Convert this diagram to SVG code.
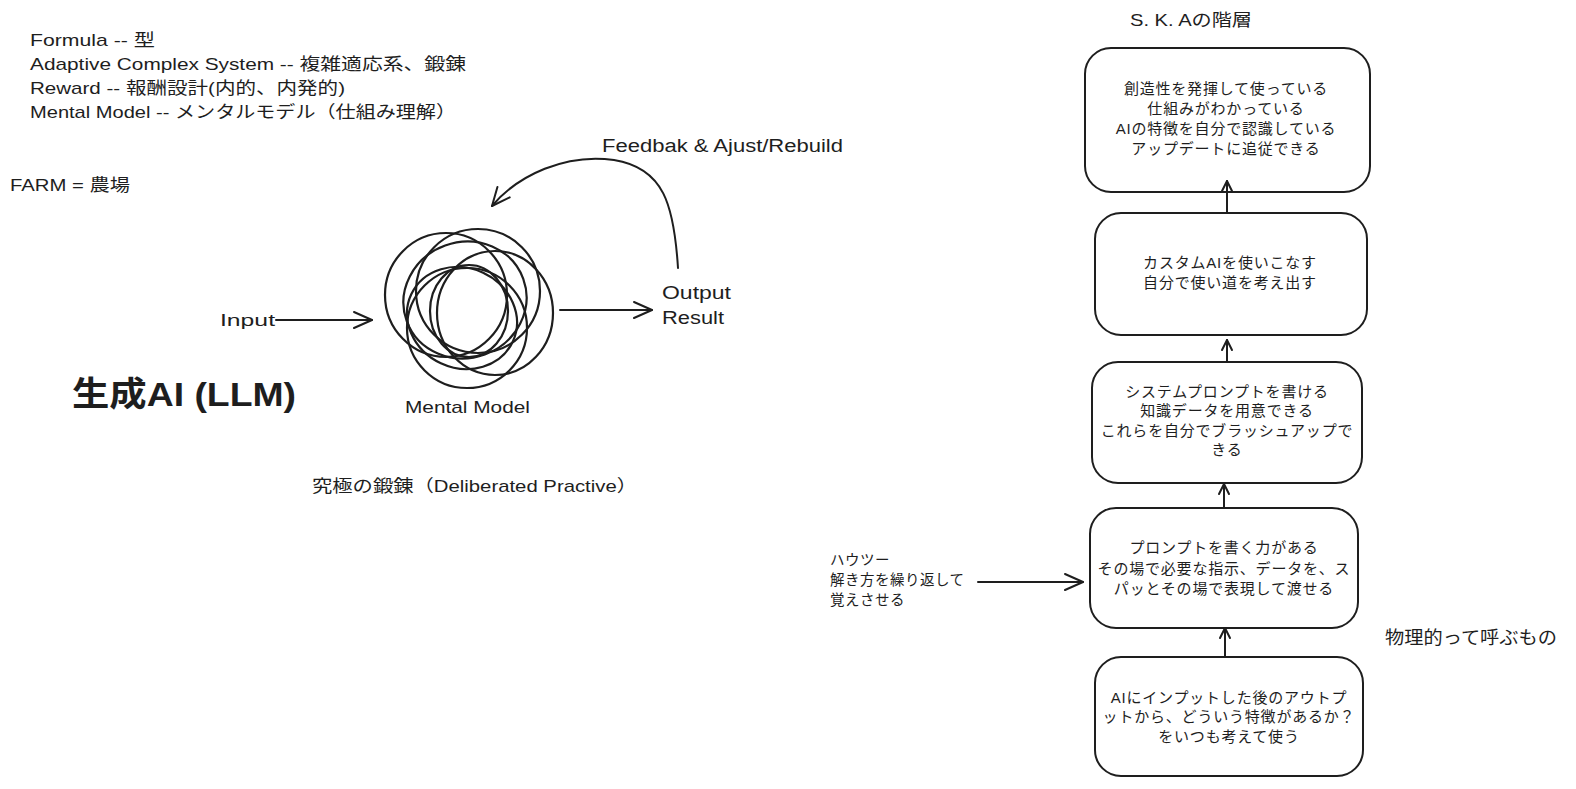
<svg xmlns="http://www.w3.org/2000/svg" width="1576" height="789" viewBox="0 0 1576 789">
<style>
text{font-family:"Liberation Sans","Noto Sans CJK JP",sans-serif;fill:#1e1e1e}
.t17{font-size:17px}
.t18{font-size:18px}
.t14{font-size:14.5px;letter-spacing:0.5px}
.bx{font-size:15px;text-anchor:middle;letter-spacing:0.8px}
.box{fill:#ffffff;stroke:#1e1e1e;stroke-width:2}
.ln{fill:none;stroke:#1e1e1e;stroke-width:2;stroke-linecap:round}
.ring{fill:none;stroke:#1e1e1e;stroke-width:2.2}
</style>
<defs>
<marker id="ah" viewBox="0 0 24 24" refX="21" refY="12" markerWidth="24" markerHeight="24" orient="auto" markerUnits="userSpaceOnUse">
<path d="M3,4 L21,12 L3,20" fill="none" stroke="#1e1e1e" stroke-width="2" stroke-linecap="round" stroke-linejoin="round"/>
</marker>
<marker id="ahs" viewBox="0 0 14 14" refX="12" refY="7" markerWidth="14" markerHeight="14" orient="auto" markerUnits="userSpaceOnUse">
<path d="M2,2 L12,7 L2,12" fill="none" stroke="#1e1e1e" stroke-width="2" stroke-linecap="round" stroke-linejoin="round"/>
</marker>
</defs>
<rect width="1576" height="789" fill="#ffffff"/>

<g id="notes">
<text class="t17" x="30" y="46" textLength="125" lengthAdjust="spacingAndGlyphs">Formula -- 型</text>
<text class="t17" x="30" y="70" textLength="436" lengthAdjust="spacingAndGlyphs">Adaptive Complex System -- 複雑適応系、鍛錬</text>
<text class="t17" x="30" y="94" textLength="315" lengthAdjust="spacingAndGlyphs">Reward -- 報酬設計(内的、内発的)</text>
<text class="t17" x="30" y="118" textLength="426" lengthAdjust="spacingAndGlyphs">Mental Model -- メンタルモデル（仕組み理解）</text>
<text class="t17" x="10" y="191" textLength="120" lengthAdjust="spacingAndGlyphs">FARM = 農場</text>
</g>

<g id="title-llm">
<text x="72" y="406" font-size="34" font-weight="bold" textLength="224" lengthAdjust="spacingAndGlyphs">生成AI (LLM)</text>
</g>

<g id="mental-model">
<ellipse class="ring" cx="446" cy="295" rx="61" ry="62"/>
<ellipse class="ring" cx="478" cy="291" rx="62" ry="62"/>
<ellipse class="ring" cx="495" cy="313" rx="58" ry="62"/>
<ellipse class="ring" cx="467" cy="328" rx="60" ry="60"/>
<ellipse class="ring" cx="469" cy="311" rx="39" ry="46"/>
<ellipse class="ring" cx="465" cy="300" rx="62" ry="58" transform="rotate(-20 465 300)"/>
<ellipse class="ring" cx="462" cy="318" rx="56" ry="50" transform="rotate(25 462 318)"/>
<text class="t17" x="405" y="413" textLength="125" lengthAdjust="spacingAndGlyphs">Mental Model</text>
</g>

<g id="input">
<text class="t17" x="220" y="326" textLength="55" lengthAdjust="spacingAndGlyphs">Input</text>
</g>

<g id="output">
<text class="t18" x="662" y="299" textLength="69" lengthAdjust="spacingAndGlyphs">Output</text>
<text class="t18" x="662" y="324" textLength="62" lengthAdjust="spacingAndGlyphs">Result</text>
</g>

<g id="feedback-label">
<text class="t18" x="602" y="152" textLength="241" lengthAdjust="spacingAndGlyphs">Feedbak &amp; Ajust/Rebuild</text>
</g>

<g id="practice-label">
<text class="t17" x="312" y="492" textLength="325" lengthAdjust="spacingAndGlyphs">究極の鍛錬（Deliberated Practive）</text>
</g>

<g id="ska-title">
<text class="t17" x="1130" y="26" textLength="122" lengthAdjust="spacingAndGlyphs">S. K. Aの階層</text>
</g>

<g id="level5">
<rect class="box" x="1085" y="48" width="285" height="144" rx="26"/>
<text class="bx" x="1226" y="94">創造性を発揮して使っている</text>
<text class="bx" x="1226" y="114">仕組みがわかっている</text>
<text class="bx" x="1226" y="134">AIの特徴を自分で認識している</text>
<text class="bx" x="1226" y="154">アップデートに追従できる</text>
</g>

<g id="level4">
<rect class="box" x="1095" y="213" width="272" height="122" rx="26"/>
<text class="bx" x="1230" y="268">カスタムAIを使いこなす</text>
<text class="bx" x="1230" y="288">自分で使い道を考え出す</text>
</g>

<g id="level3">
<rect class="box" x="1092" y="362" width="270" height="121" rx="26"/>
<text class="bx" x="1227" y="397">システムプロンプトを書ける</text>
<text class="bx" x="1227" y="416">知識データを用意できる</text>
<text class="bx" x="1227" y="436">これらを自分でブラッシュアップで</text>
<text class="bx" x="1227" y="455">きる</text>
</g>

<g id="level2">
<rect class="box" x="1090" y="508" width="268" height="120" rx="26"/>
<text class="bx" x="1224" y="553">プロンプトを書く力がある</text>
<text class="bx" x="1224" y="574">その場で必要な指示、データを、ス</text>
<text class="bx" x="1224" y="594">パッとその場で表現して渡せる</text>
</g>

<g id="level1">
<rect class="box" x="1095" y="657" width="268" height="119" rx="26"/>
<text class="bx" x="1229" y="703">AIにインプットした後のアウトプ</text>
<text class="bx" x="1229" y="722">ットから、どういう特徴があるか？</text>
<text class="bx" x="1229" y="742">をいつも考えて使う</text>
</g>

<g id="howto">
<text class="t14" x="830" y="565">ハウツー</text>
<text class="t14" x="830" y="585">解き方を繰り返して</text>
<text class="t14" x="830" y="605">覚えさせる</text>
</g>

<g id="physical-label">
<text class="t18" x="1385" y="644" textLength="172" lengthAdjust="spacingAndGlyphs">物理的って呼ぶもの</text>
</g>

<g id="connectors">
<line class="ln" x1="276" y1="320" x2="372" y2="320" marker-end="url(#ah)"/>
<line class="ln" x1="560" y1="310" x2="652" y2="310" marker-end="url(#ah)" stroke-width="2.5"/>
<path class="ln" d="M678,268 C674,205 664,168 614,160 C566,153 518,175 492,206" stroke-width="2.5" marker-end="url(#ah)"/>
<line class="ln" x1="1227" y1="212" x2="1227" y2="181" marker-end="url(#ahs)"/>
<line class="ln" x1="1227" y1="361" x2="1227" y2="340" marker-end="url(#ahs)"/>
<line class="ln" x1="1224" y1="507" x2="1224" y2="484" marker-end="url(#ahs)"/>
<line class="ln" x1="1225" y1="656" x2="1225" y2="628" marker-end="url(#ahs)"/>
<line class="ln" x1="978" y1="582" x2="1083" y2="582" stroke-width="2.5" marker-end="url(#ah)"/>
</g>
</svg>
